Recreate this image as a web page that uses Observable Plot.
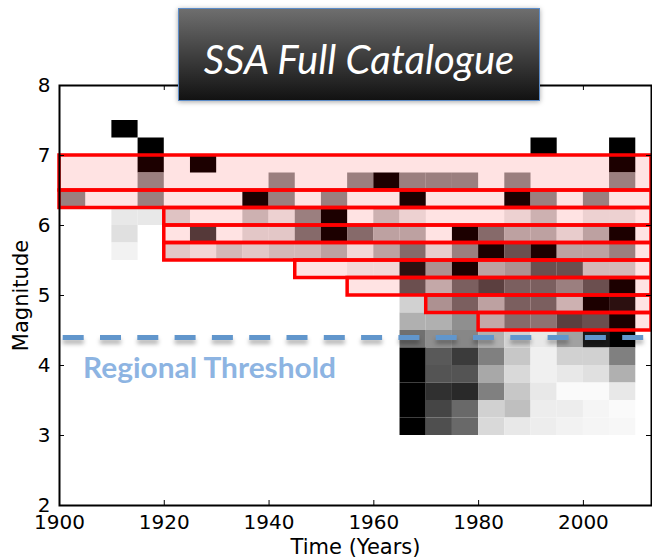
<!DOCTYPE html>
<html><head><meta charset="utf-8">
<script src="https://cdn.jsdelivr.net/npm/d3@7"></script>
<script src="https://cdn.jsdelivr.net/npm/@observablehq/plot@0.6"></script>
<style>
body{margin:0;background:#fff;}
#wrap{position:relative;width:652px;height:560px;overflow:hidden;}
#wrap svg{position:absolute;left:0;top:0;}
#title{position:absolute;left:178px;top:8px;width:362px;height:93px;box-sizing:border-box;border:1.5px solid #5b8bc7;
 background:linear-gradient(#6e6e6e,#121212);color:#fff;font-family:"Lato";font-style:italic;font-size:40px;
 text-align:center;line-height:40px;padding-top:30px;box-shadow:0 1px 5px rgba(0,0,0,.35);z-index:2;white-space:nowrap}
</style></head>
<body><div id="wrap"><div id="title">SSA Full Catalogue</div></div>
<script>
// 5-year time bins (left edge)
const years = [1900,1905,1910,1915,1920,1925,1930,1935,1940,1945,1950,1955,1960,1965,1970,1975,1980,1985,1990,1995,2000,2005,2010];
// 0.25 magnitude bins (lower edge)
const magnitudes = [7.25,7.0,6.75,6.5,6.25,6.0,5.75,5.5,5.25,5.0,4.75,4.5,4.25,4.0,3.75,3.5,3.25,3.0];
// relative event density per cell (0 = white, 1 = black), one array per magnitude bin
const m725 = [0,0,1,0,0,0,0,0,0,0,0,0,0,0,0,0,0,0,0,0,0,0,0];
const m700 = [0,0,0,1,0,0,0,0,0,0,0,0,0,0,0,0,0,0,1,0,0,1,0];
const m675 = [0,0,0,1,0,1,0,0,0,0,0,0,0,0,0,0,0,0,0,0,0,1,0];
const m650 = [0,0,0,.44,0,0,0,0,.44,0,0,.44,1,.44,.44,.44,0,.44,0,0,0,.44,0];
const m625 = [.44,0,0,.44,0,0,0,1,.44,0,.44,0,0,1,0,0,0,1,.44,0,.44,0,0];
const m600 = [0,0,.09,.09,.14,0,0,.22,.08,.44,1,0,.22,.08,0,0,0,.08,.22,0,.08,.08,0];
const m575 = [0,0,.12,0,0,.75,0,.12,.12,.53,1,.53,.29,.29,0,1,.53,.29,.29,.1,.29,1,0];
const m550 = [0,0,.05,0,.12,.05,.19,.12,.19,.19,.29,.05,.29,.53,.1,.44,1,.65,1,.29,.29,.44,0];
const m525 = [0,0,0,0,0,0,0,0,0,0,0,.05,.05,.93,.36,1,.29,.36,.65,.65,.19,.19,0];
const m500 = [0,0,0,0,0,0,0,0,0,0,0,0,0,.65,.26,.58,.72,.58,.58,.44,.65,1,0];
const m475 = [0,0,0,0,0,0,0,0,0,0,0,0,0,.18,.36,.58,.29,.58,.58,.22,1,.93,0];
const m450 = [0,0,0,0,0,0,0,0,0,0,0,0,0,.31,.31,.44,.26,.53,.5,.72,.65,1,0];
const m425 = [0,0,0,0,0,0,0,0,0,0,0,0,0,.56,.44,.47,.31,.18,.09,.37,.9,1,0];
const m400 = [0,0,0,0,0,0,0,0,0,0,0,0,0,1,.65,.77,.5,.22,.06,.18,.18,.5,0];
const m375 = [0,0,0,0,0,0,0,0,0,0,0,0,0,1,.67,.67,.34,.15,.06,.09,.12,.31,0];
const m350 = [0,0,0,0,0,0,0,0,0,0,0,0,0,1,.81,.84,.5,.22,.09,.02,.02,.09,0];
const m325 = [0,0,0,0,0,0,0,0,0,0,0,0,0,1,.73,.59,.18,.25,.07,.07,.04,.02,0];
const m300 = [0,0,0,0,0,0,0,0,0,0,0,0,0,1,.69,.59,.15,.09,.07,.05,.04,.03,0];
// completeness bands (red boxes)
const bandStart = [1900,1900,1920,1920,1920,1945,1955,1970,1980];
const bandLow   = [6.5,6.25,6.0,5.75,5.5,5.25,5.0,4.75,4.5];
const bandHigh  = [7.0,6.5,6.25,6.0,5.75,5.5,5.25,5.0,4.75];
const threshold = 4.4;
const xTicks = [1900,1920,1940,1960,1980,2000];
const yTicks = [2,3,4,5,6,7,8];
const xDomain = [1900, 2013];
const yDomain = [2, 8];

const rows = [m725,m700,m675,m650,m625,m600,m575,m550,m525,m500,m475,m450,m425,m400,m375,m350,m325,m300];
const cells = [];
magnitudes.forEach((m, i) => rows[i].forEach((v, j) => { if (v > 0) cells.push({year: years[j], mag: m, v}); }));
const bands = bandStart.map((s, i) => ({start: s, low: bandLow[i], high: bandHigh[i]}));

const chart = Plot.plot({
  width: 652, height: 560,
  marginLeft: 59, marginRight: 1, marginTop: 85, marginBottom: 55,
  x: {domain: xDomain},
  y: {domain: yDomain},
  color: {type: "linear", domain: [0, 1], range: ["#ffffff", "#000000"]},
  style: {fontFamily: "DejaVu Sans", fontSize: "20px", color: "#000", background: "transparent", overflow: "visible"},
  marks: [
    Plot.rect(cells, {x1: "year", x2: d => d.year + 5, y1: "mag", y2: d => d.mag + 0.25, fill: "v", clip: true}),
    Plot.rect(bands, {x1: "start", x2: xDomain[1], y1: "low", y2: "high", fill: "red", fillOpacity: 0.11, stroke: "red", strokeWidth: 3.5}),
    Plot.ruleY([threshold], {x1: xDomain[0], x2: xDomain[1], stroke: "#6196cc", strokeWidth: 5, strokeDasharray: "21,16.3", strokeDashoffset: 33.6}),
    Plot.text(["Regional Threshold"], {x: 1904.5, y: 4.0, dy: 4, text: d => d, textAnchor: "start", fill: "#8db4e2", fontWeight: "bold", fontSize: 28, fontFamily: "Lato"}),
    Plot.frame({stroke: "black", strokeWidth: 2}),
    Plot.tickX(xTicks, {x: d => d, insetTop: 415, stroke: "black"}),
    Plot.tickX(xTicks, {x: d => d, insetBottom: 415, stroke: "black"}),
    Plot.tickY(yTicks, {y: d => d, insetRight: 587, stroke: "black"}),
    Plot.tickY(yTicks, {y: d => d, insetLeft: 587, stroke: "black"}),
    Plot.axisX(xTicks, {tickSize: 0, tickPadding: 9, fontSize: 20, tickFormat: d => String(d), label: "Time (Years)", labelAnchor: "center", labelArrow: "none", labelOffset: 48}),
    Plot.axisY(yTicks, {tickSize: 0, tickPadding: 9, fontSize: 20, tickFormat: d => String(d), label: "Magnitude", labelAnchor: "center", labelArrow: "none", labelOffset: 46})
  ]
});
document.getElementById("wrap").appendChild(chart);
d3.select(chart).selectAll('g[aria-label="rule"]').style("filter", "drop-shadow(0px 4px 2px rgba(0,0,0,0.3))");
d3.select(chart).selectAll('g[aria-label="x-axis label"] text, g[aria-label="y-axis label"] text').style("font-size", "21px");
d3.select(chart).selectAll('g[aria-label="text"] text').attr("textLength", 253).attr("lengthAdjust", "spacingAndGlyphs");
</script>
</body></html>
